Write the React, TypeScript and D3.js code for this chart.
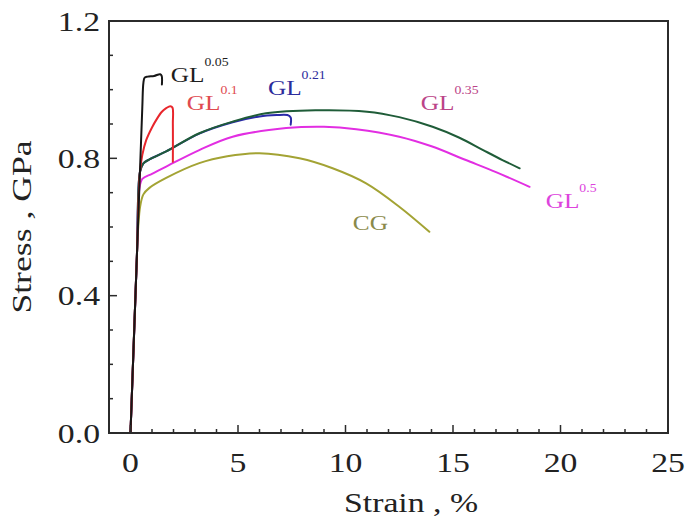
import React from "react";
import * as d3 from "d3";

// ---- data ----
const strainCG = [0, 0.3, 0.36, 0.45, 0.6, 0.88, 1.66, 3.2, 4.5, 6.0, 7.86, 9.4, 10.96, 12.5, 13.9];
const stressCG = [0, 0.52, 0.6, 0.66, 0.695, 0.714, 0.743, 0.786, 0.806, 0.815, 0.8, 0.771, 0.727, 0.659, 0.586];

const strainGL05 = [0, 0.3, 0.41, 0.55, 1.0, 1.66, 3.2, 4.75, 7.24, 9, 10.5, 12.5, 14, 15.6, 17, 18.56];
const stressGL05 = [0, 0.52, 0.71, 0.74, 0.755, 0.776, 0.824, 0.863, 0.888, 0.892, 0.885, 0.863, 0.835, 0.795, 0.76, 0.717];

const strainGL021 = [0, 0.3, 0.44, 0.6, 0.88, 1.66, 3.2, 4.75, 6.0, 6.8, 7.3, 7.45, 7.45];
const stressGL021 = [0, 0.52, 0.76, 0.785, 0.797, 0.82, 0.872, 0.905, 0.922, 0.926, 0.926, 0.919, 0.898];

const strainGL035 = [0, 0.3, 0.44, 0.6, 0.88, 1.66, 3.2, 4.75, 6.3, 8.6, 11, 12.5, 14.05, 15.3, 16.4, 17.3, 18.1];
const stressGL035 = [0, 0.52, 0.76, 0.785, 0.797, 0.82, 0.873, 0.907, 0.931, 0.94, 0.936, 0.92, 0.892, 0.86, 0.824, 0.795, 0.771];

const strainGL01 = [0, 0.3, 0.44, 0.55, 0.73, 1.0, 1.2, 1.45, 1.66, 1.85, 1.95, 1.97, 1.97];
const stressGL01 = [0, 0.52, 0.76, 0.81, 0.853, 0.89, 0.912, 0.935, 0.946, 0.952, 0.948, 0.9, 0.79];

const strainGL005 = [0, 0.3, 0.45, 0.55, 0.6, 0.66, 0.8, 1.1, 1.38, 1.45, 1.46];
const stressGL005 = [0, 0.52, 0.78, 0.95, 1.02, 1.035, 1.038, 1.04, 1.045, 1.04, 1.015];

const seriesNames = ["CG", "GL0.5", "GL0.21", "GL0.35", "GL0.1", "GL0.05"];
const seriesColors = ["#a3a334", "#e22ee2", "#2a2aa8", "#1f5c38", "#e8262c", "#161616"];

const labelMain = ["GL", "GL", "GL", "GL", "GL", "CG"];
const labelSup = ["0.05", "0.1", "0.21", "0.35", "0.5", ""];
const labelStrain = [1.87, 2.62, 6.39, 13.5, 19.31, 10.34];
const labelStress = [1.022, 0.941, 0.984, 0.941, 0.656, 0.591];
const labelColors = ["#1e1e1e", "#e04a50", "#2c2c9c", "#bb4488", "#dd44dd", "#8a8a4a"];

const xMajorTicks = [0, 5, 10, 15, 20, 25];
const yMajorTicks = [0.0, 0.4, 0.8, 1.2];

const W = 687;
const H = 522;
const FONT = "'Liberation Serif', 'Times New Roman', serif";

export default function App() {
  const x = d3.scaleLinear().domain([-1, 25]).range([109, 668]);
  const y = d3.scaleLinear().domain([0, 1.2]).range([433, 21]);

  const series = [
    [strainCG, stressCG],
    [strainGL05, stressGL05],
    [strainGL021, stressGL021],
    [strainGL035, stressGL035],
    [strainGL01, stressGL01],
    [strainGL005, stressGL005],
  ];

  const line = d3
    .line<[number, number]>()
    .x((d) => x(d[0]))
    .y((d) => y(d[1]))
    .curve(d3.curveCatmullRom.alpha(0.5));

  const xMinor = d3.range(0, 26, 1).filter((v) => v % 5 !== 0);
  const yMinor = d3.range(0, 13, 1).map((v) => v / 10).filter((v) => Math.round(v * 10) % 4 !== 0);

  const fmt = d3.format(".1f");
  const axisColor = "#2b2b2b";

  return (
    <svg
      width={W}
      height={H}
      style={{ position: "absolute", left: 0, top: 0, background: "#fff" }}
      fontFamily={FONT}
    >
      <rect width={W} height={H} fill="#fff" />
      {/* curves */}
      <g fill="none" strokeWidth={2} strokeLinejoin="round" strokeLinecap="round">
        {series.map(([xs, ys], i) => (
          <path
            key={seriesNames[i]}
            d={line(xs.map((v, j) => [v, ys[j]] as [number, number])) || ""}
            stroke={seriesColors[i]}
          />
        ))}
      </g>

      {/* frame */}
      <rect
        x={x(-1)}
        y={y(1.2)}
        width={x(25) - x(-1)}
        height={y(0) - y(1.2)}
        fill="none"
        stroke={axisColor}
        strokeWidth={2}
      />

      {/* ticks */}
      <g stroke={axisColor} strokeWidth={1.5}>
        {xMajorTicks.map((t) => (
          <line key={"xM" + t} x1={x(t)} x2={x(t)} y1={y(0)} y2={y(0) - 8} />
        ))}
        {xMinor.map((t) => (
          <line key={"xm" + t} x1={x(t)} x2={x(t)} y1={y(0)} y2={y(0) - 4} />
        ))}
        {yMajorTicks.map((t) => (
          <line key={"yM" + t} x1={x(-1)} x2={x(-1) + 8} y1={y(t)} y2={y(t)} />
        ))}
        {yMinor.map((t) => (
          <line key={"ym" + t} x1={x(-1)} x2={x(-1) + 4} y1={y(t)} y2={y(t)} />
        ))}
      </g>

      {/* tick labels */}
      <g fill="#222" fontSize={27}>
        {xMajorTicks.map((t) => (
          <text
            key={"xl" + t}
            transform={`translate(${x(t)},${472}) scale(1.25,1)`}
            textAnchor="middle"
          >
            {t}
          </text>
        ))}
        {yMajorTicks.map((t) => (
          <text
            key={"yl" + t}
            transform={`translate(${100},${y(t) + 9.5}) scale(1.25,1)`}
            textAnchor="end"
          >
            {fmt(t)}
          </text>
        ))}
      </g>

      {/* axis titles */}
      <text
        fill="#222"
        fontSize={27}
        transform={`translate(411,512) scale(1.25,1)`}
        textAnchor="middle"
      >
        Strain , %
      </text>
      <text
        fill="#222"
        fontSize={27}
        transform={`translate(31,227) rotate(-90) scale(1.32,1)`}
        textAnchor="middle"
      >
        Stress , GPa
      </text>

      {/* curve labels */}
      {labelMain.map((m, i) => (
        <text
          key={"lab" + i}
          fill={labelColors[i]}
          fontSize={22}
          transform={`translate(${x(labelStrain[i])},${y(labelStress[i])}) scale(1.15,1)`}
        >
          <tspan>{m}</tspan>
          {labelSup[i] && (
            <tspan fontSize={12} dy={-16}>
              {labelSup[i]}
            </tspan>
          )}
        </text>
      ))}
    </svg>
  );
}
